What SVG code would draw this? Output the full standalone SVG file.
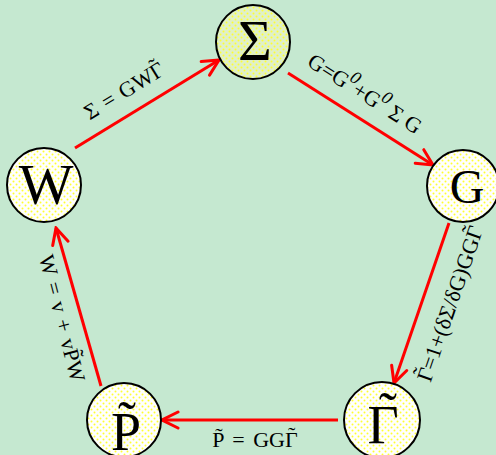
<svg xmlns="http://www.w3.org/2000/svg" width="496" height="455" viewBox="0 0 496 455">
<style>
.node{stroke:#000;stroke-width:2}
.big{font-family:"Liberation Serif","Times New Roman",serif;fill:#000;text-anchor:middle}
.lbl{font-family:"Liberation Serif","Times New Roman",serif;fill:#000;text-anchor:middle;font-size:22px}
.edge{stroke:#ff0000;stroke-width:3;fill:none;marker-end:url(#arr)}
</style>
<defs>
<pattern id="dotsW" width="6" height="6" patternUnits="userSpaceOnUse">
<rect width="6" height="6" fill="#ffffff"/>
<circle cx="1.5" cy="1.5" r="1" fill="#ffff30"/>
<circle cx="4.5" cy="4.5" r="1" fill="#ffff30"/>
</pattern>
<pattern id="dotsG" width="6" height="6" patternUnits="userSpaceOnUse">
<rect width="6" height="6" fill="#e0f0c8"/>
<circle cx="1.5" cy="1.5" r="1" fill="#ffff30"/>
<circle cx="4.5" cy="4.5" r="1" fill="#ffff30"/>
</pattern>
<marker id="arr" viewBox="0 0 20 20" refX="18" refY="10" markerWidth="20" markerHeight="20" markerUnits="userSpaceOnUse" orient="auto">
<path d="M2,2 L18,10 L2,18" stroke="#ff0000" stroke-width="3" fill="none" stroke-linecap="round" stroke-linejoin="miter"/>
</marker>
</defs>
<rect width="496" height="455" fill="#c5e8d0"/>
<g id="connectors">
<line class="edge" x1="75" y1="148" x2="219" y2="60"/>
<line class="edge" x1="288" y1="73" x2="433" y2="165"/>
<line class="edge" x1="449" y1="223" x2="394" y2="383"/>
<line class="edge" x1="338" y1="420" x2="162" y2="420"/>
<line class="edge" x1="101" y1="386" x2="56" y2="228"/>
</g>
<g id="labels">
<text class="lbl" font-size="26" word-spacing="2" transform="translate(128,97) rotate(-31.5)">Σ = GWΓ<tspan dx="-0.44em" dy="-0.24em">˜</tspan><tspan dy="0.24em"> </tspan></text>
<text class="lbl" font-size="26" transform="translate(361,100) rotate(32.4)">G=G<tspan font-style="italic" font-size="18" dy="-10">0</tspan><tspan dy="10">+G</tspan><tspan font-style="italic" font-size="18" dy="-10">0</tspan><tspan dy="10"> Σ G</tspan></text>
<text class="lbl" font-size="22" transform="translate(457,306) rotate(-71)">Γ<tspan dx="-0.44em" dy="-0.24em">˜</tspan><tspan dx="0.09em" dy="0.24em">=1+(δΣ/δG)GGΓ</tspan><tspan dx="-0.44em" dy="-0.24em">˜</tspan><tspan dy="0.24em"> </tspan></text>
<text class="lbl" font-size="23" word-spacing="2" transform="translate(55,320) rotate(75.5)">W = v + vP̃W</text>
<text class="lbl" font-size="26" word-spacing="3" x="255" y="447">P̃ = GGΓ<tspan dx="-0.44em" dy="-0.24em">˜</tspan><tspan dy="0.24em"> </tspan></text>
</g>
<g id="node-sigma">
<circle class="node" cx="253" cy="42" r="37" fill="url(#dotsG)"/>
<text class="big" font-size="58" x="255" y="60">Σ</text>
</g>
<g id="node-W">
<circle class="node" cx="44" cy="185" r="37" fill="url(#dotsW)"/>
<text class="big" font-size="58" x="46" y="204">W</text>
</g>
<g id="node-G">
<circle class="node" cx="463" cy="186" r="36" fill="url(#dotsW)"/>
<text class="big" font-size="48" x="467" y="203">G</text>
</g>
<g id="node-P">
<circle class="node" cx="124" cy="420" r="37" fill="url(#dotsW)"/>
<text class="big" font-size="54" x="126" y="450">P̃</text>
</g>
<g id="node-Gamma">
<circle class="node" cx="382" cy="420" r="38" fill="url(#dotsW)"/>
<text class="big" font-size="54" x="383" y="443">Γ</text>
<text class="big" font-size="54" x="388" y="430">˜</text>
</g>
</svg>
